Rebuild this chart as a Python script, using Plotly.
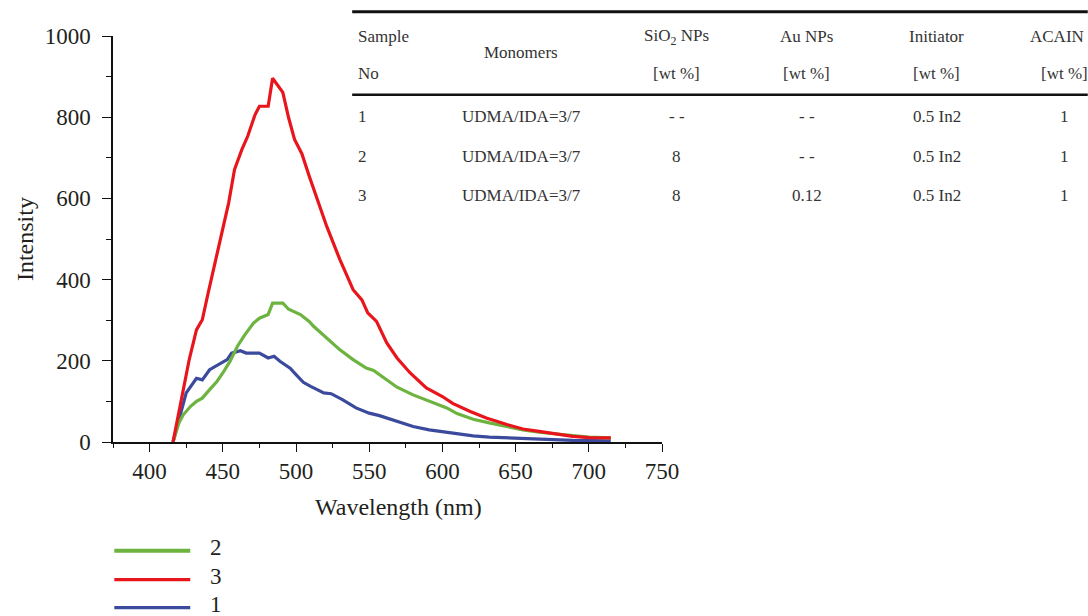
import plotly.graph_objects as go

# ---------------- data ----------------
wl_3 = [416, 424, 427, 432, 436, 440, 445, 449, 454, 458, 463, 467, 472, 475, 481, 484, 491, 495,
        499, 504, 509, 521, 530, 539, 545, 549, 555, 562, 569, 578, 589, 600, 607, 619, 630, 644,
        655, 666, 678, 689, 700, 715]
int_3 = [0, 153, 202, 276, 301, 367, 449, 506, 589, 671, 720, 753, 806, 827, 827, 896, 861, 798,
         745, 710, 655, 531, 449, 375, 350, 318, 297, 244, 207, 170, 133, 112, 95, 75, 59, 43,
         32, 26, 20, 14, 11, 10]

wl_2 = [416, 420, 423, 428, 432, 436, 441, 446, 450, 455, 460, 465, 471, 475, 481, 484, 491, 495,
        503, 509, 512, 521, 530, 539, 548, 553, 560, 569, 580, 591, 603, 610, 621, 632, 644, 655,
        666, 678, 689, 700, 715]
int_2 = [0, 47, 67, 88, 100, 108, 129, 149, 170, 199, 236, 264, 293, 305, 314, 342, 342, 327,
         314, 297, 285, 256, 227, 203, 182, 176, 158, 135, 116, 100, 84, 70, 56, 47, 38, 30,
         24, 20, 15, 12, 10]

wl_1 = [416, 421, 425, 432, 436, 441, 447, 453, 456, 462, 466, 471, 475, 481, 485, 489, 496, 500,
        505, 510, 519, 524, 532, 541, 550, 557, 569, 580, 591, 603, 610, 621, 632, 644, 666, 689, 715]
int_1 = [0, 71, 121, 157, 153, 178, 190, 203, 219, 225, 219, 218, 219, 207, 211, 199, 182, 166,
         147, 137, 121, 119, 104, 84, 71, 65, 51, 38, 30, 24, 20, 15, 12, 10, 6, 4, 3]

x_ticks = [400, 450, 500, 550, 600, 650, 700, 750]
y_ticks = [0, 200, 400, 600, 800, 1000]

legend_order = ["2", "3", "1"]

table_header_1 = ["Sample", "SiO<sub>2</sub> NPs", "Au NPs", "Initiator", "ACAIN"]
table_header_2 = ["No", "[wt %]", "[wt %]", "[wt %]", "[wt %]"]
table_monomer_head = "Monomers"
table_rows = [
    ["1", "UDMA/IDA=3/7", "- -", "- -", "0.5 In2", "1"],
    ["2", "UDMA/IDA=3/7", "8", "- -", "0.5 In2", "1"],
    ["3", "UDMA/IDA=3/7", "8", "0.12", "0.5 In2", "1"],
]

# ---------------- styling ----------------
GREEN = "#6db33f"
RED = "#e8161c"
BLUE = "#3b4a9c"
TXT = "#231f20"
SERIF = "Liberation Serif"

W, H = 1088, 616
L, R, T, B = 112.7, 662.0, 36.3, 442.3
PW, PH = R - L, B - T


def px(xp):
    return (xp - L) / PW


def py(yp):
    return (B - yp) / PH


def note(text, xp, yp, font, xanchor="center", angle=0):
    return dict(text=text, x=px(xp), y=py(yp), xref="paper", yref="paper",
                xanchor=xanchor, yanchor="middle", textangle=angle,
                showarrow=False, font=font)


fig = go.Figure()
series = {"1": (wl_1, int_1, BLUE), "2": (wl_2, int_2, GREEN), "3": (wl_3, int_3, RED)}
for name in ["1", "2", "3"]:
    xs, ys, col = series[name]
    fig.add_trace(go.Scatter(x=xs, y=ys, mode="lines", name=name,
                             line=dict(color=col, width=3.2), showlegend=False))

annotations = []
shapes = []

TITLE_F = dict(family=SERIF, size=24, color=TXT)
# axis titles
annotations.append(note("Intensity", 24, 239, TITLE_F, angle=-90))
annotations.append(note("Wavelength (nm)", 398, 507, TITLE_F))

# legend (drawn manually: long line samples)
leg_y = [551, 580, 608]
for lab, yy in zip(legend_order, leg_y):
    col = series[lab][2]
    shapes.append(dict(type="line", xref="paper", yref="paper", x0=px(114), x1=px(190),
                       y0=py(yy), y1=py(yy), line=dict(color=col, width=4 if lab == "2" else 3.2)))
    annotations.append(note(lab, 216, yy - 3, dict(family=SERIF, size=23, color=TXT)))

# table
TF = dict(family=SERIF, size=17, color="#333333")
shapes.append(dict(type="line", xref="paper", yref="paper", x0=px(352), x1=px(1088),
                   y0=py(12), y1=py(12), line=dict(color="#111111", width=3)))
shapes.append(dict(type="line", xref="paper", yref="paper", x0=px(352), x1=px(1088),
                   y0=py(95), y1=py(95), line=dict(color="#111111", width=2.6)))
col_x = [356, 521, 677, 807, 937, 1065]
annotations.append(note(table_header_1[0], col_x[0], 37, TF, xanchor="left"))
annotations.append(note(table_header_2[0], col_x[0], 74, TF, xanchor="left"))
annotations.append(note(table_monomer_head, col_x[1], 53, TF))
for i in range(1, 5):
    if i == 4:
        annotations.append(note(table_header_1[i], 1086, 37, TF, xanchor="right"))
    else:
        annotations.append(note(table_header_1[i], col_x[i + 1], 37, TF))
    annotations.append(note(table_header_2[i], col_x[i + 1], 74, TF))
row_y = [117, 157, 196]
for row, yy in zip(table_rows, row_y):
    for j, cell in enumerate(row):
        annotations.append(note(cell, col_x[j], yy, TF, xanchor="left" if j == 0 else "center"))

fig.update_layout(
    width=W, height=H,
    margin=dict(l=L, r=W - R, t=T, b=H - B, pad=0),
    paper_bgcolor="white", plot_bgcolor="white",
    annotations=annotations, shapes=shapes,
    xaxis=dict(range=[375, 750], tickvals=x_ticks, ticks="outside", ticklen=8, tickwidth=1.3,
               tickcolor="#111111", showline=True, linecolor="#111111", linewidth=1.5,
               showgrid=False, zeroline=False,
               tickfont=dict(family=SERIF, size=23, color=TXT),
               minor=dict(dtick=25, tick0=375, ticks="outside", ticklen=4, tickwidth=1.2,
                          tickcolor="#111111", showgrid=False)),
    yaxis=dict(range=[0, 1000], tickvals=y_ticks, ticks="outside", ticklen=9, tickwidth=1.3,
               tickcolor="#111111", showline=True, linecolor="#111111", linewidth=1.5,
               showgrid=False, zeroline=False, ticklabelstandoff=7,
               tickfont=dict(family=SERIF, size=23, color=TXT),
               minor=dict(dtick=100, tick0=0, ticks="outside", ticklen=5, tickwidth=1.2,
                          tickcolor="#111111", showgrid=False)),
)

fig.write_html("out.html")
